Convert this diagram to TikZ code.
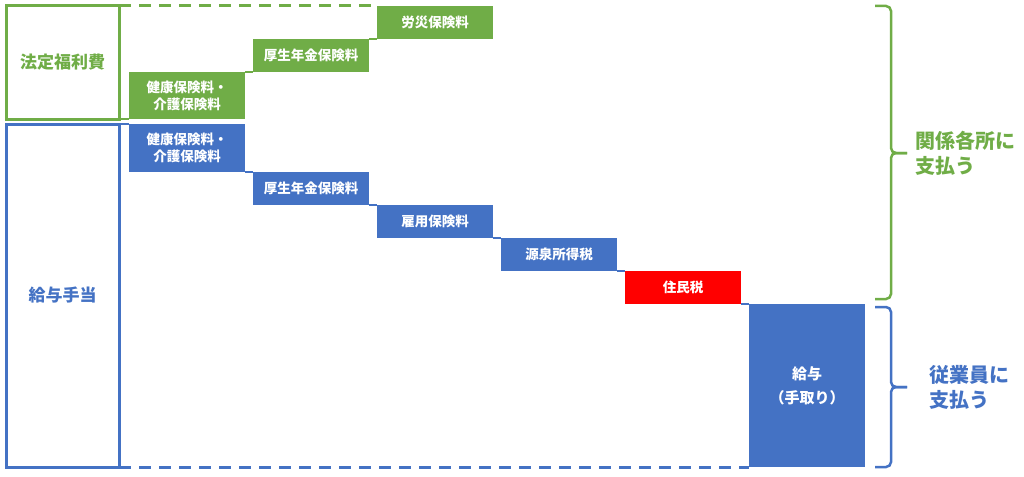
\documentclass[tikz,border=0pt]{standalone}
\usepackage{fontspec}
\setmainfont{Noto Sans CJK JP}
\usetikzlibrary{positioning}
\definecolor{hgreen}{HTML}{70AD47}
\definecolor{kblue}{HTML}{4472C4}
\definecolor{jred}{HTML}{FF0000}
\tikzset{block/.style={draw=none, text=white, text centered, align=center, inner sep=0pt, outer sep=0pt, minimum width=116pt, minimum height=33pt, anchor=north west, font=\bfseries\fontsize{13.5pt}{17pt}\selectfont}}
\tikzset{frame/.style={draw, line width=3pt, inner sep=0pt, outer sep=0pt, anchor=north west, minimum width=113pt, font=\bfseries\fontsize{17pt}{19pt}\selectfont}}
\tikzset{connect/.style={draw, line width=1.5pt}}
\tikzset{kakko/.style={draw, line width=2.5pt, rounded corners=5pt}}
\tikzset{shiharai/.style={anchor=west, align=left, inner sep=0pt, font=\bfseries\fontsize{20pt}{25pt}\selectfont}}
\begin{document}
\begin{tikzpicture}[x=1pt,y=-1pt]

\useasboundingbox (0,0) rectangle (1024,476);

%outer frames
\node[frame,draw=hgreen,text=hgreen,minimum height=113pt] (hotei) at(6,6) {法定福利費};
\node[frame,draw=kblue,text=kblue,minimum height=343pt] (kyuyo) at(6,124) {給与手当};

%green steps
\node[block,fill=hgreen,minimum height=47pt] (hg1) at(129,72) {健康保険料・\\介護保険料};
\node[block,fill=hgreen] (hg2) at([xshift=8pt]hg1.north east) [anchor=south west] {厚生年金保険料};
\node[block,fill=hgreen] (hg3) at([xshift=8pt]hg2.north east) [anchor=south west] {労災保険料};

%blue steps
\node[block,fill=kblue,minimum height=48pt] (kb1) at(129,124) {健康保険料・\\介護保険料};
\node[block,fill=kblue] (kb2) at([xshift=8pt]kb1.south east) {厚生年金保険料};
\node[block,fill=kblue] (kb3) at([xshift=8pt]kb2.south east) {雇用保険料};
\node[block,fill=kblue] (kb4) at([xshift=8pt]kb3.south east) {源泉所得税};
\node[block,fill=jred] (kb5) at([xshift=8pt]kb4.south east) {住民税};
\node[block,fill=kblue,minimum height=163pt,font=\bfseries\fontsize{15pt}{24pt}\selectfont] (kb6) at([xshift=8pt]kb5.south east) {給与\\（手取り）};

%green links
\path[connect,hgreen,line width=3pt,dash pattern=on 12pt off 8pt] (hotei.north east) -- (hg3.north west);
\path[connect,hgreen] (hotei.south east) -- (hg1.south west);
\path[connect,hgreen] (hg1.north east) -- (hg2.south west);
\path[connect,hgreen] (hg2.north east) -- (hg3.south west);

%blue links
\path[connect,kblue] (kyuyo.north east) -- (kb1.north west);
\path[connect,kblue] (kb1.south east) -- (kb2.north west);
\path[connect,kblue] (kb2.south east) -- (kb3.north west);
\path[connect,kblue] (kb3.south east) -- (kb4.north west);
\path[connect,kblue] (kb4.south east) -- (kb5.north west);
\path[connect,kblue] (kb5.south east) -- (kb6.north west);
\path[connect,kblue,line width=3pt,dash pattern=on 12pt off 8pt] (kyuyo.south east) -- (kb6.south west);

%braces
\path[kakko,hgreen] (875,6) -| (891,153) -- (907,153);
\path[kakko,hgreen] (875,299) -| (891,153) -- (907,153);
\node[shiharai,text=hgreen] (kankei) at(915,153) {関係各所に\\支払う};

\path[kakko,kblue] (875,307) -| (891,387) -- (907,387);
\path[kakko,kblue] (875,467) -| (891,387) -- (907,387);
\node[shiharai,text=kblue] (jugyo) at(929,387) {従業員に\\支払う};

\end{tikzpicture}
\end{document}
